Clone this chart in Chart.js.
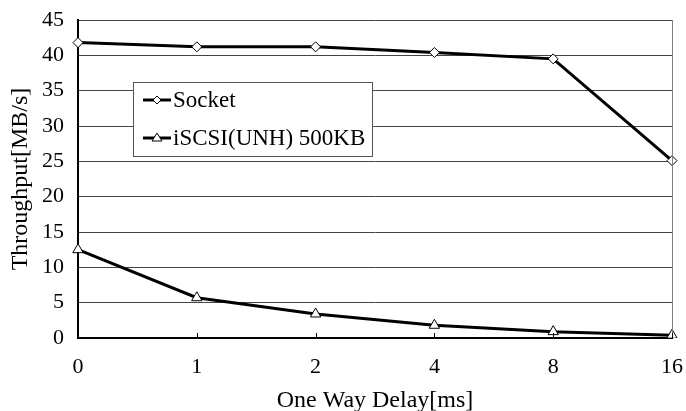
<!DOCTYPE html>
<html>
<head>
<meta charset="utf-8">
<script src="https://cdn.jsdelivr.net/npm/chart.js@4.4.0/dist/chart.umd.min.js"></script>
<style>
  html, body { margin: 0; padding: 0; background: #fff; }
  #wrap { width: 686px; height: 411px; }
</style>
</head>
<body>
<div id="wrap"><canvas id="delayChart" width="686" height="411"></canvas></div>
<script>
// Delay categories (ms) and throughput values (MB/s)
const delays = ['0', '1', '2', '4', '8', '16'];
const socketThroughput = [41.8, 41.2, 41.2, 40.4, 39.5, 25.1];
const iscsiThroughput = [12.5, 5.7, 3.4, 1.8, 0.9, 0.4];
const yTicks = [0, 5, 10, 15, 20, 25, 30, 35, 40, 45];

const serif = '"Liberation Serif", "Times New Roman", serif';

// Floating legend box inside the plot, plus inward x ticks and right border
const boxLegend = {
    id: 'boxLegend',
    afterDatasetsDraw(chart) {
        const c = chart.ctx;
        const area = chart.chartArea;
        const xs = chart.scales.x;

        c.save();
        // right border of plot
        c.strokeStyle = '#808080';
        c.lineWidth = 1;
        c.beginPath();
        c.moveTo(area.right + 0.5, area.top);
        c.lineTo(area.right + 0.5, area.bottom);
        c.stroke();

        // small inward ticks on x axis
        c.strokeStyle = '#000';
        delays.forEach((d, i) => {
            if (i === 0) return;
            const x = Math.round(xs.getPixelForValue(i)) + 0.5;
            c.beginPath();
            c.moveTo(x, area.bottom);
            c.lineTo(x, area.bottom - 5);
            c.stroke();
        });

        // legend box
        const bx = 133, by = 82, bw = 239, bh = 74;
        c.fillStyle = '#fff';
        c.fillRect(bx, by, bw, bh);
        c.strokeStyle = '#555';
        c.lineWidth = 1;
        c.strokeRect(bx + 0.5, by + 0.5, bw, bh);

        const rows = [100, 138];
        chart.data.datasets.forEach((ds, i) => {
            const y = rows[i];
            c.strokeStyle = '#000';
            c.lineWidth = 3;
            c.beginPath();
            c.moveTo(143, y);
            c.lineTo(171, y);
            c.stroke();
            c.lineWidth = 1;
            c.fillStyle = '#fff';
            c.beginPath();
            if (ds.pointStyle === 'rectRot') {
                c.moveTo(157, y - 4);
                c.lineTo(161, y);
                c.lineTo(157, y + 4);
                c.lineTo(153, y);
            } else {
                c.moveTo(157, y - 5);
                c.lineTo(162, y + 3);
                c.lineTo(152, y + 3);
            }
            c.closePath();
            c.fill();
            c.stroke();

            c.fillStyle = '#000';
            c.font = '23px ' + serif;
            c.textBaseline = 'middle';
            c.textAlign = 'left';
            c.fillText(ds.label, 173, y + 1);
        });
        c.restore();
    }
};

const ctx = document.getElementById('delayChart').getContext('2d');
const delayChart = new Chart(ctx, {
    type: 'line',
    data: {
        labels: delays,
        datasets: [{
            label: 'Socket',
            data: socketThroughput,
            borderColor: '#000',
            borderWidth: 3,
            pointStyle: 'rectRot',
            pointRadius: 5,
            pointBackgroundColor: '#fff',
            pointBorderColor: '#000',
            pointBorderWidth: 1,
            tension: 0
        }, {
            label: 'iSCSI(UNH) 500KB',
            data: iscsiThroughput,
            borderColor: '#000',
            borderWidth: 3,
            pointStyle: 'triangle',
            pointRadius: 6,
            pointBackgroundColor: '#fff',
            pointBorderColor: '#000',
            pointBorderWidth: 1,
            tension: 0
        }]
    },
    options: {
        responsive: false,
        animation: false,
        layout: {
            padding: { left: 6, right: 0, top: 0, bottom: 0 }
        },
        plugins: {
            legend: { display: false },
            tooltip: { enabled: false }
        },
        scales: {
            x: {
                offset: false,
                grid: { display: false, drawTicks: false },
                border: { color: '#000', width: 2 },
                ticks: {
                    color: '#000',
                    padding: 16,
                    maxRotation: 0,
                    font: { family: serif, size: 22 }
                },
                title: {
                    display: true,
                    text: 'One Way Delay[ms]',
                    color: '#000',
                    padding: { top: 0, bottom: -2 },
                    font: { family: serif, size: 24, lineHeight: 1 }
                },
                afterFit(scale) {
                    scale.height = 73;
                    scale.paddingLeft = 0;
                    scale.paddingRight = 14;
                }
            },
            y: {
                min: 0,
                max: 45,
                afterBuildTicks(scale) {
                    scale.ticks = yTicks.map(v => ({ value: v }));
                },
                grid: { color: '#444', lineWidth: 1, drawTicks: false },
                border: { color: '#000', width: 2 },
                ticks: {
                    color: '#000',
                    padding: 14,
                    font: { family: serif, size: 22 }
                },
                title: {
                    display: true,
                    text: 'Throughput[MB/s]',
                    color: '#000',
                    padding: { top: 0, bottom: 4 },
                    font: { family: serif, size: 24 }
                },
                afterFit(scale) {
                    scale.width = 72;
                    scale.paddingTop = 20;
                    scale.paddingBottom = 0;
                }
            }
        }
    },
    plugins: [boxLegend]
});
</script>
</body>
</html>
